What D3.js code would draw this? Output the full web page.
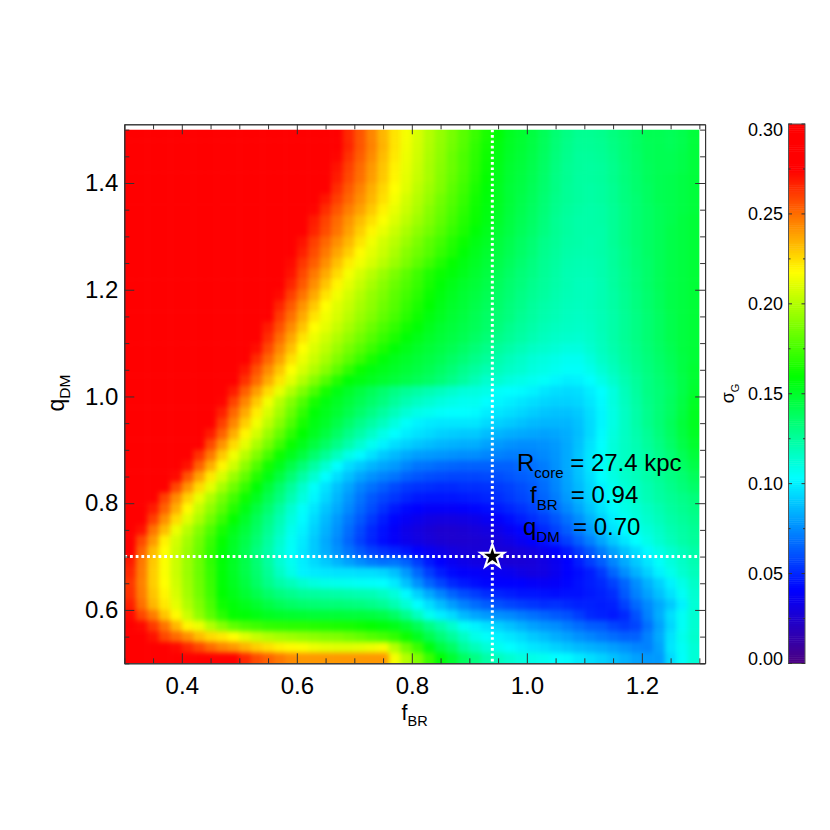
<!DOCTYPE html>
<html>
<head>
<meta charset="utf-8">
<script src="https://cdn.jsdelivr.net/npm/d3@7"></script>
<style>
  html, body { margin: 0; padding: 0; background: #fff; }
  svg { display: block; }
  text { font-family: "Liberation Sans", Arial, sans-serif; fill: #000; }
  .axis path, .axis line { stroke: #333; stroke-width: 1; }
</style>
</head>
<body>
<svg id="chart" width="830" height="830"></svg>
<script>
// grid centres
const fBR = [0.31,0.33,0.35,0.37,0.39,0.41,0.43,0.45,0.47,0.49,0.51,0.53,0.55,0.57,0.59,0.61,0.63,0.65,0.67,0.69,0.71,0.73,0.75,0.77,0.79,0.81,0.83,0.85,0.87,0.89,0.91,0.93,0.95,0.97,0.99,1.01,1.03,1.05,1.07,1.09,1.11,1.13,1.15,1.17,1.19,1.21,1.23,1.25,1.27,1.29];
const qDM = [1.49,1.47,1.45,1.43,1.41,1.39,1.37,1.35,1.33,1.31,1.29,1.27,1.25,1.23,1.21,1.19,1.17,1.15,1.13,1.11,1.09,1.07,1.05,1.03,1.01,0.99,0.97,0.95,0.93,0.91,0.89,0.87,0.85,0.83,0.81,0.79,0.77,0.75,0.73,0.71,0.69,0.67,0.65,0.63,0.61,0.59,0.57,0.55,0.53,0.51];

// sigma_G in units of 0.001, one row per qDM, top row first
const sigmaRows = [
[300,300,300,300,300,300,300,300,300,300,300,300,300,300,300,300,300,300,276,265,255,244,233,223,215,208,200,193,186,179,172,165,158,152,149,145,140,134,130,127,127,128,131,134,137,141,141,140,142,146],
[300,300,300,300,300,300,300,300,300,300,300,300,300,300,300,300,300,300,278,266,255,245,234,223,214,207,199,192,185,178,170,163,156,151,148,144,139,133,129,126,126,127,130,133,137,140,141,140,142,146],
[300,300,300,300,300,300,300,300,300,300,300,300,300,300,300,300,300,295,273,263,253,243,232,222,213,206,198,191,183,176,169,162,155,150,147,143,138,132,128,125,125,126,129,133,136,140,141,141,143,146],
[300,300,300,300,300,300,300,300,300,300,300,300,300,300,300,300,300,290,270,260,250,240,230,220,212,205,197,190,183,176,168,161,154,149,146,142,137,131,127,125,124,125,128,132,136,139,141,141,143,146],
[300,300,300,300,300,300,300,300,300,300,300,300,300,300,300,300,300,287,268,258,249,239,229,219,211,204,197,189,182,175,167,160,153,148,145,141,136,130,127,124,124,125,128,132,135,139,141,142,144,146],
[300,300,300,300,300,300,300,300,300,300,300,300,300,300,300,300,298,274,264,254,245,235,226,217,210,202,195,188,180,173,165,158,152,147,144,140,135,130,126,124,123,124,127,131,135,138,141,142,144,146],
[300,300,300,300,300,300,300,300,300,300,300,300,300,300,300,300,290,269,260,251,242,233,224,215,207,200,193,185,178,171,163,157,152,147,143,139,134,129,126,124,123,124,127,131,134,138,141,142,144,146],
[300,300,300,300,300,300,300,300,300,300,300,300,300,300,300,295,273,264,255,246,238,229,220,212,205,198,190,183,176,169,162,156,151,146,142,138,133,128,125,123,122,123,126,130,134,137,140,142,144,146],
[300,300,300,300,300,300,300,300,300,300,300,300,300,300,300,290,268,259,250,241,232,224,216,209,202,195,188,181,174,167,161,155,150,145,141,137,132,127,124,122,122,123,126,130,134,137,140,142,145,147],
[300,300,300,300,300,300,300,300,300,300,300,300,300,300,297,275,266,257,248,238,228,219,212,205,198,191,185,178,171,165,158,153,148,144,140,136,131,127,124,122,122,122,126,130,134,137,140,143,145,147],
[300,300,300,300,300,300,300,300,300,300,300,300,300,300,290,270,260,251,242,233,223,214,207,201,194,187,180,174,167,161,155,151,146,142,138,134,129,126,123,122,121,122,126,130,134,137,140,143,145,147],
[300,300,300,300,300,300,300,300,300,300,300,300,300,295,278,267,257,247,237,228,218,211,205,198,190,184,178,171,165,158,153,149,145,141,137,133,128,125,122,121,121,122,125,129,133,137,140,143,145,147],
[300,300,300,300,300,300,300,300,300,300,300,300,300,290,272,262,253,242,231,221,214,208,201,194,187,180,173,166,160,155,151,147,143,139,135,131,127,124,121,120,120,121,125,129,133,136,140,143,145,147],
[300,300,300,300,300,300,300,300,300,300,300,300,298,282,270,258,247,236,225,215,208,201,194,187,180,173,166,161,157,153,149,145,141,137,133,130,126,123,120,119,119,121,124,128,132,136,140,143,145,147],
[300,300,300,300,300,300,300,300,300,300,300,300,295,280,266,254,242,230,219,211,204,197,190,183,177,171,164,158,154,150,147,143,139,135,132,128,125,122,120,118,118,120,124,128,132,136,140,143,145,147],
[300,300,300,300,300,300,300,300,300,300,300,300,288,272,260,248,236,223,214,207,200,193,187,180,174,168,161,156,152,148,145,141,137,134,130,127,124,121,119,118,118,120,123,127,131,135,139,143,145,147],
[300,300,300,300,300,300,300,300,300,300,300,292,278,266,254,241,229,217,210,204,197,191,184,178,171,165,159,154,150,147,143,139,136,132,129,125,122,120,118,117,118,120,123,127,131,135,139,143,145,147],
[300,300,300,300,300,300,300,300,300,300,300,288,274,261,249,236,223,214,208,201,194,188,181,175,168,162,156,152,148,145,141,137,134,131,127,124,121,119,117,116,117,119,122,126,130,134,138,142,145,147],
[300,300,300,300,300,300,300,300,300,300,300,282,268,256,243,230,217,211,204,197,190,183,176,170,163,158,153,149,146,143,140,136,132,128,125,122,119,117,116,115,116,119,122,126,130,134,138,142,145,147],
[300,300,300,300,300,300,300,300,300,300,290,277,264,250,237,223,213,206,199,192,185,178,171,165,158,154,150,147,144,141,137,133,129,126,123,120,117,115,114,113,115,118,122,126,130,134,138,142,145,147],
[300,300,300,300,300,300,300,300,300,300,285,271,258,244,231,217,209,202,194,186,179,172,165,158,154,150,147,144,141,137,133,129,125,122,119,116,114,112,110,110,113,117,121,125,129,133,137,141,145,147],
[300,300,300,300,300,300,300,300,300,292,277,264,251,238,224,213,205,197,188,180,172,164,157,153,150,147,144,141,137,133,129,125,121,118,115,112,110,108,106,106,110,115,119,124,128,132,136,140,144,147],
[300,300,300,300,300,300,300,300,300,283,269,256,243,230,217,208,199,190,180,170,161,156,153,150,147,144,141,137,133,128,124,120,118,115,113,110,108,106,104,104,107,112,117,122,127,131,135,139,144,148],
[300,300,300,300,300,300,300,300,290,276,263,250,236,223,211,200,189,178,167,158,155,152,149,146,143,140,137,133,129,124,119,114,113,110,108,106,104,101,99,100,103,108,114,120,125,130,134,138,143,148],
[300,300,300,300,300,300,300,300,282,268,253,239,225,212,200,188,176,164,155,150,145,140,135,130,126,123,120,117,114,111,110,108,104,103,102,100,97,95,94,95,99,103,110,118,124,130,133,137,143,149],
[300,300,300,300,300,300,300,290,273,259,244,229,214,201,189,177,164,156,151,146,141,136,131,125,120,116,113,110,108,106,106,103,101,99,97,95,93,92,92,93,97,102,110,117,123,129,133,138,144,151],
[300,300,300,300,300,300,300,282,267,251,236,221,208,196,183,170,158,153,148,142,136,130,124,118,112,108,106,104,103,103,102,99,97,95,93,91,89,88,88,90,95,101,109,116,122,128,133,138,145,152],
[300,300,300,300,300,300,290,276,260,244,228,214,202,190,177,164,155,150,143,136,129,123,117,110,104,100,98,97,97,97,97,94,92,90,88,86,85,85,85,88,94,101,109,116,122,128,133,139,146,152],
[300,300,300,300,300,300,282,268,252,235,219,207,194,182,169,159,152,145,137,129,122,115,108,103,99,96,94,92,91,90,90,87,85,83,82,81,80,81,83,87,94,102,110,116,121,126,132,138,145,151],
[300,300,300,300,300,290,274,258,241,225,211,198,186,173,161,153,145,137,129,121,113,106,100,95,92,89,87,85,84,83,83,80,78,76,75,75,76,78,82,88,96,103,111,116,120,125,130,136,143,149],
[300,300,300,300,300,280,263,247,229,214,201,188,175,162,153,145,135,126,117,108,102,96,90,86,82,79,78,77,76,75,75,73,72,71,71,72,74,77,82,89,97,104,111,116,119,123,128,133,140,146],
[300,300,300,300,285,270,252,235,219,206,191,177,163,153,143,133,123,113,103,95,90,85,81,78,73,69,68,66,65,64,64,64,64,64,66,68,71,76,82,89,97,105,111,116,119,122,126,131,137,143],
[300,300,300,293,272,255,238,222,208,194,181,167,155,145,134,123,113,103,95,88,81,76,72,69,64,61,59,58,57,57,57,58,59,61,63,65,69,74,81,88,95,103,109,114,118,122,126,130,134,139],
[300,300,290,274,258,241,225,211,197,184,171,158,147,136,125,114,104,96,88,81,73,68,63,58,54,52,51,50,50,51,51,52,54,56,59,62,67,73,80,86,93,100,106,112,116,120,124,128,132,136],
[300,300,276,259,243,227,212,199,186,174,162,152,141,131,120,110,101,93,85,77,69,62,57,53,49,46,45,45,45,46,47,49,51,54,57,60,65,71,78,85,92,99,104,110,115,119,123,126,129,132],
[300,295,268,252,235,218,204,192,180,167,155,145,135,124,113,104,97,89,82,74,66,59,52,46,42,40,38,38,38,39,41,43,46,49,52,56,61,67,74,81,89,96,102,108,112,116,120,124,127,130],
[300,282,260,242,225,210,198,185,172,160,150,140,130,120,110,102,94,86,78,70,62,54,47,41,37,34,31,30,30,31,33,36,39,43,47,51,55,61,68,75,84,92,99,105,110,114,118,122,125,128],
[295,270,248,232,213,201,189,177,164,154,146,137,127,117,107,100,92,84,76,67,58,50,44,38,33,30,27,25,25,26,28,30,33,37,41,45,50,56,63,71,79,88,96,102,107,111,115,120,123,126],
[280,258,240,220,207,196,185,172,160,151,143,134,124,114,105,98,90,82,74,65,56,49,43,38,34,31,28,26,25,25,26,27,29,32,36,40,44,50,56,64,72,81,90,97,103,108,113,118,122,125],
[275,252,232,217,205,194,183,170,158,150,141,131,122,112,104,97,90,83,76,69,62,56,52,49,45,40,36,33,30,28,27,27,27,27,29,31,35,40,46,54,62,71,80,88,95,102,108,113,118,122],
[268,247,229,216,205,194,183,170,158,151,143,134,124,113,106,99,94,90,85,80,75,71,68,69,64,55,46,40,36,33,31,30,28,27,27,28,31,35,40,47,55,63,73,82,90,97,104,110,115,120],
[265,246,228,216,205,194,183,171,158,151,143,135,126,116,108,100,98,97,96,96,95,95,93,88,78,66,55,47,42,39,38,37,36,35,32,30,31,35,40,43,47,54,65,75,84,92,100,107,113,118],
[262,245,228,217,206,195,184,172,158,152,145,137,129,122,118,113,110,108,107,106,105,104,103,98,88,76,65,57,50,46,43,41,40,40,40,38,37,38,41,44,47,50,56,65,75,84,92,100,108,115],
[263,246,230,219,208,196,185,173,159,154,148,142,136,131,128,125,124,123,122,121,120,119,116,111,102,92,82,73,65,59,55,51,49,47,45,45,44,43,44,44,46,48,51,62,72,80,88,96,105,113],
[267,249,233,222,211,199,188,176,162,157,153,149,144,140,137,135,134,133,133,132,131,129,126,120,112,103,95,87,79,72,67,63,60,57,55,53,51,52,50,48,48,47,48,56,66,74,82,90,100,112],
[272,258,246,230,218,205,192,180,168,160,158,155,152,150,149,148,147,147,147,146,146,145,143,137,128,117,106,99,94,86,81,78,76,74,71,68,65,62,60,55,50,48,46,50,60,72,83,95,105,113],
[285,272,261,248,233,219,213,200,190,181,176,173,170,169,168,168,167,166,165,164,162,160,157,154,148,140,130,122,114,105,100,96,92,88,84,80,77,75,71,67,63,62,57,54,57,68,80,93,105,113],
[300,285,270,258,250,242,232,225,222,217,210,204,200,197,195,193,191,189,188,185,182,178,175,170,162,152,142,133,125,116,108,104,100,97,94,90,87,83,80,76,73,70,67,64,64,72,82,96,107,114],
[300,295,285,278,272,265,258,250,244,240,234,228,224,220,218,216,213,211,210,210,211,213,215,200,185,172,156,145,137,125,118,112,106,103,100,97,95,92,89,86,84,82,79,76,73,72,80,97,105,112],
[300,300,300,300,300,300,300,300,300,278,265,257,252,247,243,240,240,240,240,240,240,240,240,215,200,188,172,158,148,138,130,122,117,113,110,108,106,103,102,98,95,92,88,84,80,78,78,94,104,112]
];

// colour table of the bar
const colorStops = [0, 0.04, 0.103, 0.159, 0.217, 0.274, 0.30];
const colorValues = ["#4b0082", "#0000ff", "#00ffff", "#00ff00", "#ffff00", "#ff0000", "#ff0000"];

const xMajor = [0.4, 0.6, 0.8, 1.0, 1.2];
const xMinor = [0.3, 0.35, 0.45, 0.5, 0.55, 0.65, 0.7, 0.75, 0.85, 0.9, 0.95, 1.05, 1.1, 1.15, 1.25, 1.3];
const yMajor = [0.6, 0.8, 1.0, 1.2, 1.4];
const yMinor = [0.5, 0.55, 0.65, 0.7, 0.75, 0.85, 0.9, 0.95, 1.05, 1.1, 1.15, 1.25, 1.3, 1.35, 1.45, 1.5];
const barMajor = [0, 0.05, 0.10, 0.15, 0.20, 0.25, 0.30];
const barMinor = [0.025, 0.075, 0.125, 0.175, 0.225, 0.275];

const bestF = 0.94;
const bestQ = 0.70;

sigmaRows.forEach((r, i) => { if (r.length !== fBR.length) throw new Error("row " + i + " has " + r.length); });

const svg = d3.select("#chart");

const x = d3.scaleLinear().domain([0.3, 1.31]).range([124.3, 705.1]);
const y = d3.scaleLinear().domain([0.5, 1.51]).range([663.3, 124.3]);
const color = d3.scaleLinear().domain(colorStops).range(colorValues).clamp(true);

const gridX0 = x(0.3), gridX1 = x(1.3), gridY0 = y(1.5), gridY1 = y(0.5);
const bleed = 14;

// blur softens the coarser grid, edge cells bleed past the clip so it keeps square corners
const defs = svg.append("defs");
const blur = defs.append("filter").attr("id", "soft")
    .attr("filterUnits", "userSpaceOnUse")
    .attr("x", gridX0 - bleed).attr("y", gridY0 - bleed)
    .attr("width", gridX1 - gridX0 + 2 * bleed).attr("height", gridY1 - gridY0 + 2 * bleed)
    .attr("color-interpolation-filters", "sRGB");
blur.append("feGaussianBlur").attr("stdDeviation", 2.8);
defs.append("clipPath").attr("id", "gridClip").append("rect")
    .attr("x", gridX0).attr("y", gridY0)
    .attr("width", gridX1 - gridX0).attr("height", gridY1 - gridY0);

const cells = [];
sigmaRows.forEach((row, j) => row.forEach((v, i) => cells.push({ i, j, f: fBR[i], q: qDM[j], v: v / 1000 })));

const lastI = fBR.length - 1, lastJ = qDM.length - 1;
const cellW = x(0.32) - x(0.3), cellH = y(0.5) - y(0.52);

svg.append("g").attr("clip-path", "url(#gridClip)")
    .append("g").attr("filter", "url(#soft)")
    .selectAll("rect")
    .data(cells)
    .enter()
    .append("rect")
    .attr("x", d => x(d.f - 0.01) - (d.i === 0 ? bleed : 0))
    .attr("y", d => y(d.q + 0.01) - (d.j === 0 ? bleed : 0))
    .attr("width", d => cellW + 0.6 + (d.i === 0 || d.i === lastI ? bleed : 0))
    .attr("height", d => cellH + 0.6 + (d.j === 0 || d.j === lastJ ? bleed : 0))
    .attr("fill", d => color(d.v));

// dotted lines through the best fit
svg.append("line")
    .attr("x1", x(bestF)).attr("x2", x(bestF))
    .attr("y1", y(1.5)).attr("y2", y(0.5))
    .attr("stroke", "#fff").attr("stroke-width", 3).attr("stroke-dasharray", "2.6 2.8");
svg.append("line")
    .attr("x1", x(0.3)).attr("x2", x(1.3))
    .attr("y1", y(bestQ)).attr("y2", y(bestQ))
    .attr("stroke", "#fff").attr("stroke-width", 3).attr("stroke-dasharray", "2.8 2.9");

svg.append("path")
    .attr("d", d3.symbol().type(d3.symbolStar).size(170)())
    .attr("transform", `translate(${x(bestF)},${y(bestQ)})`)
    .attr("fill", "#000")
    .attr("stroke", "#fff")
    .attr("stroke-width", 2.2);

// frame and ticks, all four sides
function frameAxis(gen, values, size, tx, ty) {
    const g = svg.append("g").attr("class", "axis").attr("transform", `translate(${tx},${ty})`);
    g.call(gen.tickValues(values).tickSize(size).tickSizeOuter(0).tickFormat(""));
    return g;
}
const left = x.range()[0], right = x.range()[1], bottom = y.range()[0], top_ = y.range()[1];
frameAxis(d3.axisBottom(x), xMinor, -5, 0, bottom);
frameAxis(d3.axisTop(x), xMinor, -5, 0, top_);
frameAxis(d3.axisLeft(y), yMinor, -5, left, 0);
frameAxis(d3.axisRight(y), yMinor, -5, right, 0);
frameAxis(d3.axisTop(x), xMajor, -10, 0, top_);
frameAxis(d3.axisRight(y), yMajor, -10, right, 0);

const xAxis = svg.append("g").attr("class", "axis").attr("transform", `translate(0,${bottom})`)
    .call(d3.axisBottom(x).tickValues(xMajor).tickSize(-10).tickSizeOuter(0).tickPadding(14).tickFormat(d3.format(".1f")));
xAxis.selectAll("text").style("font-size", "24px").attr("fill", "#000");

const yAxis = svg.append("g").attr("class", "axis").attr("transform", `translate(${left},0)`)
    .call(d3.axisLeft(y).tickValues(yMajor).tickSize(-10).tickSizeOuter(0).tickPadding(6).tickFormat(d3.format(".1f")));
yAxis.selectAll("text").style("font-size", "24px").attr("fill", "#000");

// text with a subscript part
function subText(px, py, size, subSize, parts, anchor, rotate) {
    const t = svg.append("text")
        .attr("transform", `translate(${px},${py})` + (rotate ? " rotate(-90)" : ""))
        .attr("text-anchor", anchor || "start")
        .style("font-size", size + "px")
        .attr("xml:space", "preserve")
        .style("white-space", "pre");
    let shift = 0;
    parts.forEach(p => {
        const dy = (p.sub ? 0.28 * size : 0) - shift;
        shift += dy;
        t.append("tspan").attr("dy", dy)
            .style("font-size", (p.sub ? subSize : size) + "px")
            .text(p.s);
    });
    return t;
}

subText(401.5, 720, 21.5, 14.5, [{ s: "f" }, { s: "BR", sub: true }]);
subText(64, 393, 23, 15.5, [{ s: "q" }, { s: "DM", sub: true }], "middle", true);
subText(517, 471, 24, 15, [{ s: "R" }, { s: "core", sub: true }, { s: " = 27.4 kpc" }]);
subText(530, 503, 24, 15, [{ s: "f" }, { s: "BR", sub: true }, { s: "  = 0.94" }]);
subText(523, 535, 24, 15, [{ s: "q" }, { s: "DM", sub: true }, { s: "  = 0.70" }]);

// colour bar
const barY = d3.scaleLinear().domain([0, 0.30]).range([663.5, 124]);
const barX0 = 788.5, barX1 = 805;
const barLevels = d3.range(0, 0.30, 0.30 / 256);
svg.append("g").selectAll("rect")
    .data(barLevels)
    .enter()
    .append("rect")
    .attr("x", barX0)
    .attr("y", d => barY(d + 0.30 / 256))
    .attr("width", barX1 - barX0)
    .attr("height", barY(0) - barY(0.30 / 256) + 0.5)
    .attr("fill", d => color(d));

svg.append("rect")
    .attr("x", barX0).attr("y", barY(0.30))
    .attr("width", barX1 - barX0).attr("height", barY(0) - barY(0.30))
    .attr("fill", "none").attr("stroke", "#555").attr("stroke-width", 1);

[[barMajor, 3.5], [barMinor, 2]].forEach(([vals, len]) => {
    svg.append("g").selectAll("line").data(vals).enter().append("line")
        .attr("x1", barX0).attr("x2", barX0 + len)
        .attr("y1", d => barY(d)).attr("y2", d => barY(d))
        .attr("stroke", "#333");
    svg.append("g").selectAll("line").data(vals).enter().append("line")
        .attr("x1", barX1 - len).attr("x2", barX1)
        .attr("y1", d => barY(d)).attr("y2", d => barY(d))
        .attr("stroke", "#333");
});

svg.append("g").selectAll("text")
    .data(barMajor)
    .enter()
    .append("text")
    .attr("x", 783)
    .attr("y", d => barY(d) + 6.5 + (d === 0.30 ? 5 : d === 0 ? -5 : 0))
    .attr("text-anchor", "end")
    .style("font-size", "18px")
    .text(d => d.toFixed(2));

subText(734, 393.5, 18, 11, [{ s: "σ" }, { s: "G", sub: true }], "middle", true);
</script>
</body>
</html>
